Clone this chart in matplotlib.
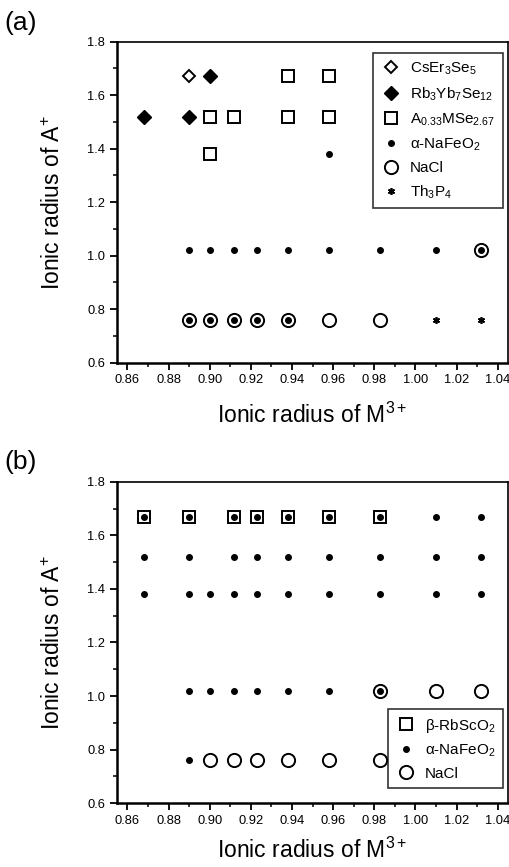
import matplotlib
matplotlib.use("Agg")
import matplotlib.pyplot as plt
from matplotlib.ticker import MultipleLocator

plt.rcParams['font.family'] = ['Liberation Sans', 'DejaVu Sans']
plt.rcParams['mathtext.fontset'] = 'custom'
plt.rcParams['mathtext.rm'] = 'Liberation Sans'
plt.rcParams['mathtext.it'] = 'Liberation Sans'
plt.rcParams['mathtext.default'] = 'rm'

# ---- panel (a) data: (M3+ radius, A+ radius) ----
a_cser_x = [0.890]
a_cser_y = [1.67]
a_rbyb_x = [0.868, 0.890, 0.900]
a_rbyb_y = [1.52, 1.52, 1.67]
a_amse_x = [0.900, 0.912, 0.938, 0.958, 0.938, 0.958, 0.900]
a_amse_y = [1.52, 1.52, 1.52, 1.52, 1.67, 1.67, 1.38]
a_nafe_x = [0.958, 0.890, 0.900, 0.912, 0.923, 0.938, 0.958, 0.983, 1.010, 1.032,
            0.890, 0.900, 0.912, 0.923, 0.938]
a_nafe_y = [1.38, 1.02, 1.02, 1.02, 1.02, 1.02, 1.02, 1.02, 1.02, 1.02,
            0.76, 0.76, 0.76, 0.76, 0.76]
a_nacl_x = [0.890, 0.900, 0.912, 0.923, 0.938, 0.958, 0.983, 1.032]
a_nacl_y = [0.76, 0.76, 0.76, 0.76, 0.76, 0.76, 0.76, 1.02]
a_th_x = [1.010, 1.032]
a_th_y = [0.76, 0.76]

# ---- panel (b) data ----
b_rbsc_x = [0.868, 0.890, 0.912, 0.923, 0.938, 0.958, 0.983]
b_rbsc_y = [1.67] * 7
m_all = [0.868, 0.890, 0.912, 0.923, 0.938, 0.958, 0.983, 1.010, 1.032]
b_nafe_x = (m_all + m_all
            + [0.868, 0.890, 0.900, 0.912, 0.923, 0.938, 0.958, 0.983, 1.010, 1.032]
            + [0.890, 0.900, 0.912, 0.923, 0.938, 0.958, 0.983]
            + [0.890])
b_nafe_y = [1.67] * 9 + [1.52] * 9 + [1.38] * 10 + [1.02] * 7 + [0.76]
b_nacl_x = [0.983, 1.010, 1.032, 0.900, 0.912, 0.923, 0.938, 0.958, 0.983]
b_nacl_y = [1.02, 1.02, 1.02, 0.76, 0.76, 0.76, 0.76, 0.76, 0.76]

fig = plt.figure(figsize=(5.09, 8.67), dpi=100)
ax1 = fig.add_axes([0.230, 0.5817, 0.768, 0.3703])
ax2 = fig.add_axes([0.230, 0.0735, 0.768, 0.3709])

sq = dict(marker='s', ms=8, mfc='white', mec='black', mew=1.4, ls='none')
ci = dict(marker='o', ms=9.5, mfc='white', mec='black', mew=1.4, ls='none')
dot = dict(marker='o', ms=4, mfc='black', mec='black', ls='none')
leg_kw = dict(frameon=True, fancybox=False, edgecolor='black', fontsize=11,
              handletextpad=0.6, borderpad=0.5, handlelength=1.3, borderaxespad=0)

ax1.plot(a_cser_x, a_cser_y, marker='D', ms=6.5, mfc='white', mec='black', mew=1.4,
         ls='none', label=r'CsEr$_3$Se$_5$')
ax1.plot(a_rbyb_x, a_rbyb_y, marker='D', ms=7, color='black', ls='none',
         label=r'Rb$_3$Yb$_7$Se$_{12}$')
ax1.plot(a_amse_x, a_amse_y, label=r'A$_{0.33}$MSe$_{2.67}$', **sq)
ax1.plot(a_nacl_x, a_nacl_y, label='NaCl', zorder=2, **ci)
ax1.plot(a_nafe_x, a_nafe_y, label=r'α-NaFeO$_2$', zorder=3, **dot)
ax1.plot(a_th_x, a_th_y, marker=(6, 2, 0), ms=5, color='black', mew=1.2, ls='none',
         label=r'Th$_3$P$_4$')
h, l = ax1.get_legend_handles_labels()
order = [0, 1, 2, 4, 3, 5]
ax1.legend([h[i] for i in order], [l[i] for i in order], loc='upper right',
           bbox_to_anchor=(0.987, 0.964), labelspacing=0.55,
           **leg_kw).get_frame().set_linewidth(1.2)

ax2.plot(b_rbsc_x, b_rbsc_y, label=r'β-RbScO$_2$', zorder=2, **sq)
ax2.plot(b_nafe_x, b_nafe_y, label=r'α-NaFeO$_2$', zorder=3, **dot)
ax2.plot(b_nacl_x, b_nacl_y, label='NaCl', zorder=2, **ci)
ax2.legend(loc='lower right', bbox_to_anchor=(0.987, 0.047), labelspacing=0.5,
           **leg_kw).get_frame().set_linewidth(1.2)

for ax, tag, ty, lp in [(ax1, '(a)', 1.095, 12), (ax2, '(b)', 1.10, 8)]:
    ax.set_xlim(0.855, 1.045)
    ax.set_ylim(0.6, 1.8)
    ax.xaxis.set_major_locator(MultipleLocator(0.02))
    ax.xaxis.set_minor_locator(MultipleLocator(0.01))
    ax.yaxis.set_major_locator(MultipleLocator(0.2))
    ax.yaxis.set_minor_locator(MultipleLocator(0.1))
    ax.xaxis.set_major_formatter(plt.FormatStrFormatter('%.2f'))
    ax.yaxis.set_major_formatter(plt.FormatStrFormatter('%.1f'))
    ax.tick_params(which='major', direction='out', length=5, width=1.3, labelsize=9.3)
    ax.tick_params(which='minor', direction='out', length=3, width=1.1)
    ax.tick_params(top=False, right=False, which='both')
    for s in ['left', 'bottom']:
        ax.spines[s].set_linewidth(1.8)
    for s in ['top', 'right']:
        ax.spines[s].set_linewidth(1.2)
    ax.set_xlabel(r'Ionic radius of M$^{3+}$', fontsize=16.5, labelpad=lp)
    ax.set_ylabel(r'Ionic radius of A$^{+}$', fontsize=16.5, labelpad=16)
    ax.text(-0.288, ty, tag, transform=ax.transAxes, fontsize=19, va='top', ha='left')

fig.savefig('out.png', dpi=100)
